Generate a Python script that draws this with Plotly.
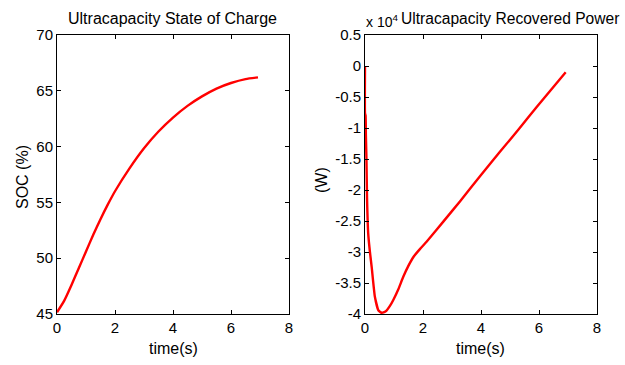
import plotly.graph_objects as go

soc_t = [0.0, 0.25, 0.5, 0.75, 1.0, 1.25, 1.5, 1.75, 2.0, 2.5, 3.0, 3.5, 4.0, 4.5, 5.0, 5.5, 6.0, 6.5, 6.93]
soc_v = [45.15, 46.2, 47.6, 49.1, 50.6, 52.1, 53.5, 54.8, 56.0, 58.05, 59.85, 61.35, 62.6, 63.65, 64.5, 65.2, 65.7, 66.05, 66.2]

pw_t = [0.0, 0.0, 0.02, 0.03, 0.05, 0.07, 0.11, 0.17, 0.23, 0.34, 0.46, 0.57, 0.66, 0.75, 0.86, 0.98, 1.15, 1.32,
        1.5, 1.67, 1.9, 2.13, 2.7, 3.28, 4.0, 4.66, 5.3, 5.92, 6.92]
pw_v = [0.0, -0.76, -0.8, -1.1, -1.5, -2.13, -2.7, -3.0, -3.24, -3.72, -3.94, -3.98, -3.97, -3.94, -3.87, -3.77,
        -3.6, -3.4, -3.22, -3.08, -2.95, -2.83, -2.51, -2.18, -1.76, -1.38, -1.02, -0.66, -0.10]

x_ticks = [0, 2, 4, 6, 8]
soc_ticks = [45, 50, 55, 60, 65, 70]
pw_ticks = [-4, -3.5, -3, -2.5, -2, -1.5, -1, -0.5, 0, 0.5]

W, H = 625, 365
fam = "Liberation Sans, Arial, sans-serif"
font = dict(family=fam, size=16, color="black")
tfont = dict(family=fam, size=15, color="black")

fig = go.Figure()
fig.add_trace(go.Scatter(x=soc_t, y=soc_v, mode="lines", line=dict(color="red", width=2.4, shape="spline", smoothing=0.6),
                         xaxis="x", yaxis="y", showlegend=False, hoverinfo="skip"))
fig.add_trace(go.Scatter(x=pw_t, y=pw_v, mode="lines", line=dict(color="red", width=2.4, shape="spline", smoothing=0.4),
                         xaxis="x2", yaxis="y2", showlegend=False, hoverinfo="skip"))

def px(x):
    return x / W

def py(y):
    return (H - y) / H

axis_common = dict(showline=True, linecolor="black", linewidth=1, mirror="ticks", ticks="inside",
                   ticklen=4, tickcolor="black", showgrid=False, zeroline=False, automargin=False,
                   tickfont=tfont)

fig.update_layout(
    template="none",
    width=W, height=H, margin=dict(l=0, r=0, t=0, b=0, pad=0), autosize=False,
    paper_bgcolor="white", plot_bgcolor="white", font=font,
    xaxis=dict(domain=[px(57), px(289)], range=[0, 8], tickvals=x_ticks, anchor="y", **axis_common),
    yaxis=dict(domain=[py(314), py(35)], range=[45, 70], tickvals=soc_ticks, anchor="x", **axis_common),
    xaxis2=dict(domain=[px(365), px(597)], range=[0, 8], tickvals=x_ticks, anchor="y2", **axis_common),
    yaxis2=dict(domain=[py(314), py(35)], range=[-4, 0.5], tickvals=pw_ticks,
                ticktext=[("%g" % v) for v in pw_ticks], anchor="x2", **axis_common),
)

ann = [
    dict(text="Ultracapacity State of Charge", x=px(172), y=py(18), xanchor="center"),
    dict(text="Ultracapacity Recovered Power", x=px(399), y=py(18), xanchor="left",
         font=dict(family=fam, size=15.6, color="black")),
    dict(text="x 10<sup>4</sup>", x=px(364), y=py(21), xanchor="left", font=dict(family=fam, size=14, color="black")),
    dict(text="time(s)", x=px(173), y=py(348), xanchor="center"),
    dict(text="time(s)", x=px(481), y=py(348), xanchor="center"),
    dict(text="SOC (%)", x=px(22), y=py(177), xanchor="center", textangle=-90),
    dict(text="(W)", x=px(321), y=py(180), xanchor="center", textangle=-90),
]
for a in ann:
    a.setdefault("font", font)
    fig.add_annotation(xref="paper", yref="paper", showarrow=False, yanchor="middle", **a)

fig.write_html("out.html", config={"displayModeBar": False, "responsive": False},
               post_script="document.body.style.margin='0';document.body.style.overflow='hidden';")
